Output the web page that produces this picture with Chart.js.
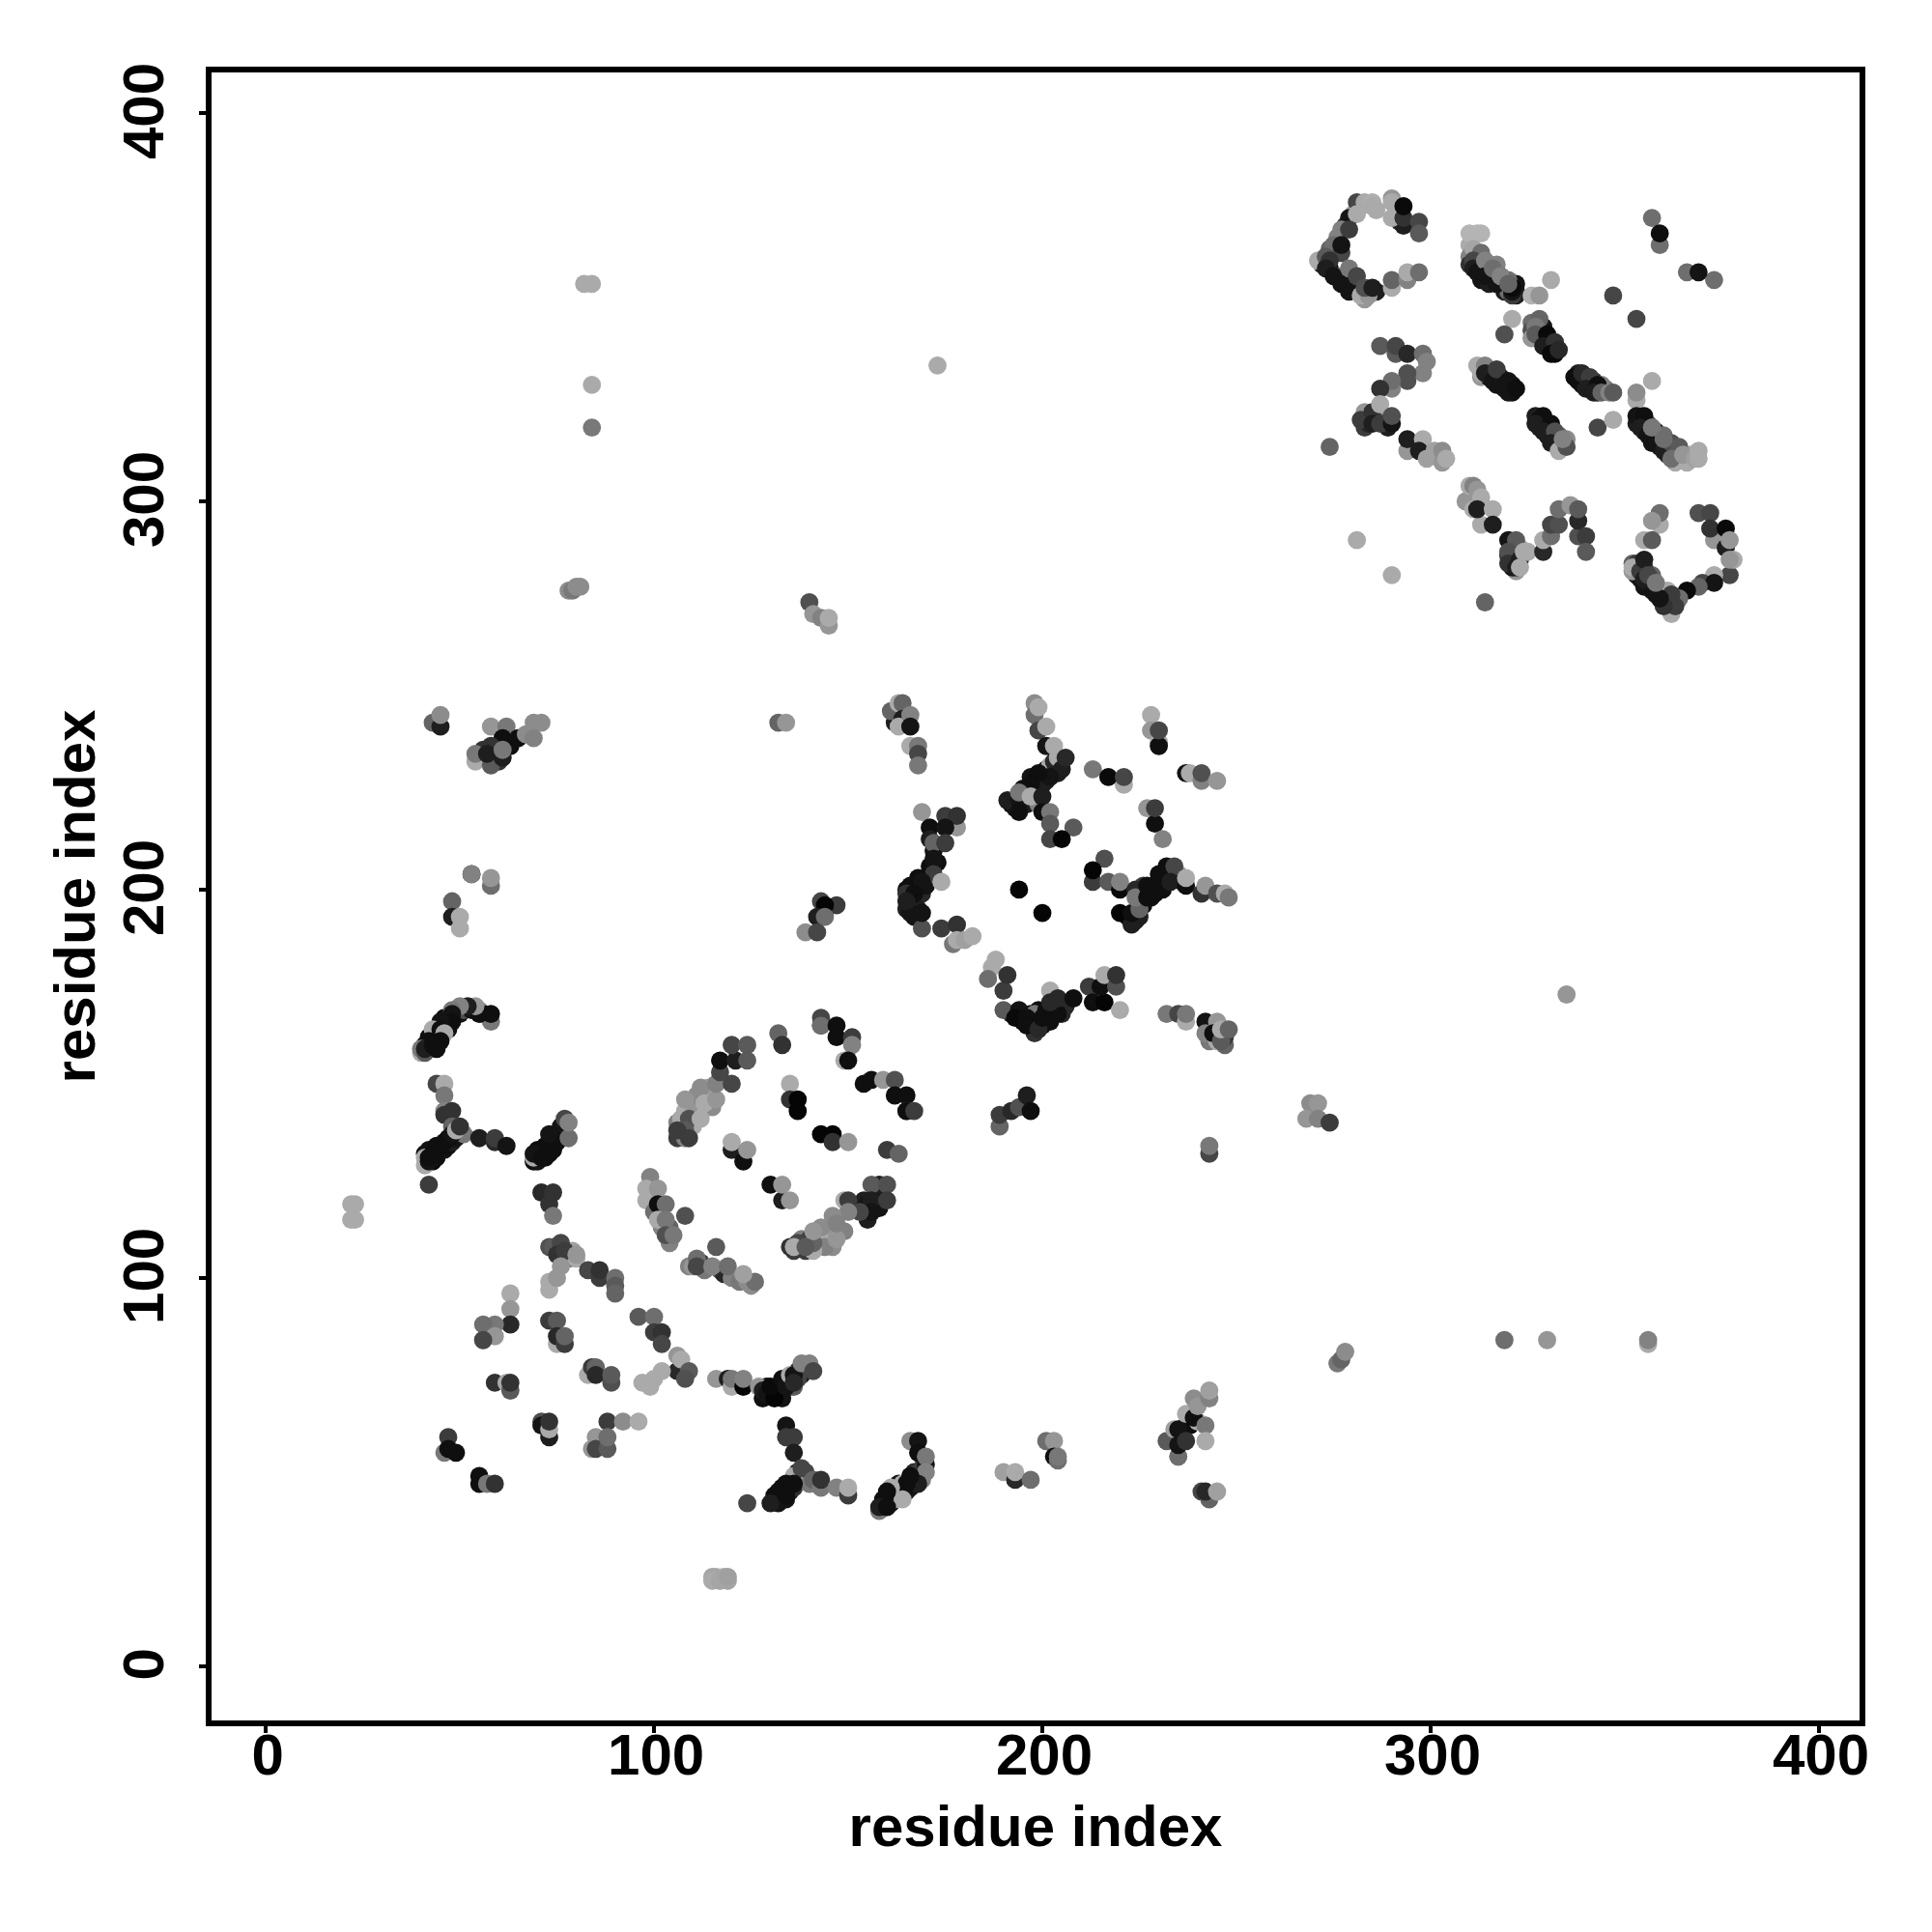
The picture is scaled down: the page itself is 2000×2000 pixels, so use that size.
<!DOCTYPE html>
<html>
<head>
<meta charset="UTF-8">
<title>residue contacts</title>
<script src="https://cdn.jsdelivr.net/npm/chart.js@4/dist/chart.umd.min.js"></script>
<style>
body { margin: 0; background: #fff; }
#wrap { width: 2000px; height: 2000px; }
</style>
</head>
<body>
<div id="wrap"><canvas id="contacts" width="2000" height="2000"></canvas></div>
<script>
// tick labels and axis range
const tickValues = [0, 100, 200, 300, 400];
const axisMin = -14.7;
const axisMax = 411.2;
const axisName = 'residue index';

// every contact is [residue x, residue y, grey level 0-255], grouped by region of the map
const topC = [[274,365,100],[276,368,130],[278,371,50],[280,374,170],[282,376,170],[286,375,170],[292,372,50],[293,371,30],
  [272,361,30],[274,360,20],[276,358,30],[277,358,120],[278,356,30],[280,355,20],[281,355,100],[282,354,20],[283,352,150],[284,354,170],[286,354,30],
  [281,377,70],[283,377,170],[285,377,175],[285,376,170],[290,378,150],[290,377,170],[290,373,170],[293,373,50],[293,376,10],[297,372,70],[297,369,90],
  [279,373,20],[281,374,170],[277,370,130],[279,370,60],[275,366,110],[277,364,70],[277,366,20],[271,362,170],[273,363,90],[274,362,50],[273,360,30],[275,358,20],[277,356,20],[279,354,20],[279,360,120],[281,358,70],
  [282,353,170],[284,353,150],[283,355,80],[285,355,30],[290,355,170],[290,357,100],[294,357,130],[294,359,170],[297,359,110]];
const topBand = [[310,366,170],[310,363,130],[310,361,50],[312,361,40],[313,360,30],[313,357,20],[315,360,90],[315,356,30],[316,358,40],[318,356,20],[319,354,30],[319,355,20],[320,354,110],[322,354,15],[322,356,20],[322,353,30],
  [310,369,180],[313,369,180],[312,369,180],[311,365,165],[313,364,110],[311,362,70],[311,360,30],[312,359,20],[314,362,130],[314,358,20],[317,361,130],[318,358,30],[317,356,20],[320,357,110],[321,353,60],[321,354,20],[321,355,10],
  [316,360,110],[318,358,130],[320,356,100],
  [326,346,110],[326,344,80],[328,342,30],[330,341,20],[331,340,30],[332,338,10],[326,342,150],[329,345,20],
  [331,357,170],[326,353,180],[328,353,150],[321,347,170],[319,343,80],[328,347,100],[327,345,120],[327,343,90],[330,343,10],[329,340,30],[332,341,50],[331,338,10],[333,339,40],
  [347,353,70],[353,347,70],[357,373,110],[359,366,110],[359,369,15],[366,359,110],[373,357,110],[369,359,20]];
const topMid = [[287,340,90],[291,338,90],[291,340,70],[294,338,40],[298,338,110],[298,333,130],[299,336,130],[294,333,80],[294,331,80],[290,329,130],[290,331,110],[287,329,50],
  [284,322,30],[286,321,20],[288,322,150],[289,319,30],[283,319,60],[288,320,40],[284,320,40],
  [283,323,150],[282,321,60],[285,323,50],[285,320,30],[287,320,60],[287,325,170],[290,320,20],[290,322,80],[274,314,100],
  [294,313,150],[294,316,30],[298,316,170],[297,313,30],[299,311,160],[301,313,160],[303,310,150],[303,313,140],[304,311,170]];
const topStrands = [[312,335,170],[313,332,150],[315,332,15],[316,333,40],[317,330,20],[319,331,90],[318,332,30],[321,330,15],[321,328,15],[315,334,110],
  [313,333,170],[314,335,130],[314,333,30],[316,331,20],[317,334,60],[319,329,20],[320,331,20],[320,328,20],[322,329,15],
  [338,333,30],[337,332,15],[340,331,30],[339,330,20],[342,331,40],[341,329,30],[343,328,20],[345,329,110],[344,330,130],
  [338,331,15],[339,333,40],[341,332,60],[340,329,30],[343,330,15],[342,328,30],[344,328,100],[346,328,130],[347,328,90],
  [353,326,170],[353,328,140],[357,331,170],[343,319,70],[347,321,170],
  [327,322,30],[328,321,15],[328,319,40],[330,319,15],[330,317,30],[332,316,20],[333,317,100],[333,315,40],[334,314,100],[335,316,140],
  [329,322,15],[327,320,30],[331,320,15],[329,318,30],[332,318,80],[331,315,30],[333,313,170],[335,314,80],[334,316,130],
  [353,320,30],[355,320,20],[355,318,30],[356,319,15],[357,317,30],[357,315,20],[359,316,20],[359,314,30],[361,315,100],[361,312,60],[363,312,120],[363,310,170],[366,310,170],[367,312,170],[356,320,100],
  [353,322,20],[355,322,15],[354,319,30],[356,317,20],[357,319,90],[358,318,30],[358,315,20],[360,317,110],[360,313,30],[362,315,80],[364,314,90],[362,311,110],[365,312,150],[368,311,160],[369,313,170],[369,311,170],
  [357,319,120],[360,316,110]];
const topLoops = [[309,300,150],[310,304,170],[311,304,130],[312,303,150],[313,294,170],[311,298,170],[313,301,170],[312,298,30],[316,298,170],[316,294,30],
  [320,286,50],[321,285,30],[322,282,150],[321,283,20],[322,288,80],[323,288,170],
  [320,290,20],[322,290,90],[320,287,80],[320,284,50],[323,285,30],[322,283,30],[323,283,170],[324,287,170],[325,287,170],[329,287,40],[329,290,170],[331,291,110],[331,294,70],[333,294,80],[333,298,110],[336,299,150],[338,291,80],[338,295,40],[338,298,90],[340,291,60],[340,287,90],
  [359,294,170],[359,297,110],[357,295,150],[355,290,170],[357,290,90],[369,297,80],[372,297,70],[373,290,150],[372,293,50],[376,293,10],[376,288,30],[377,290,150],[377,281,70],[378,285,170],[377,285,150],[373,281,170],[370,279,70],[373,279,20],[369,278,100],[366,277,10],
  [352,284,100],[353,281,30],[354,280,20],[355,278,20],[356,279,30],[357,279,90],[358,276,20],[359,277,60],[360,275,20],[361,274,40],[352,282,150],[353,284,60],[357,281,100],[355,283,60],
  [362,271,170],[361,277,170],[364,275,110],[362,276,60],[363,273,60],[360,273,50],[359,275,20],[357,277,20],[352,283,170],[354,282,90],[354,282,60],[355,280,30],[355,285,30],[356,281,70],[358,279,120],
  [281,290,170],[290,281,170],[314,274,100]];
const upperLeft = [[84,356,170],[82,356,170],[84,330,170],[84,319,120],[78,277,140],[79,277,120],[80,278,140],[81,278,140],[140,274,80],[141,271,150],[143,270,130],[145,268,150],[145,270,170],[173,335,170],
  [59,234,30],[60,236,20],[60,233,50],[56,236,50],[63,237,15],
  [43,243,100],[45,242,30],[45,245,140],[58,242,150],[62,242,120],[69,243,140],[71,243,140],[61,239,15],[65,239,15],[67,240,140],[69,239,130],[54,233,170],[54,235,120],[58,232,90],[58,237,50],[57,235,30],[61,234,30],[61,236,120],
  [132,243,100],[134,243,150],[53,204,30],[53,204,130],[58,201,110],[58,203,150],[48,197,100],[48,193,30],[50,193,170],[50,190,170],
  [143,197,70],[147,196,60],[144,196,5],[142,193,30],[144,193,110],[139,189,140],[142,189,70]];
const leftArc = [[40,158,170],[41,160,20],[42,159,15],[42,162,15],[43,161,15],[43,163,15],[44,162,15],[44,164,20],[45,163,20],[46,165,15],[46,167,15],[47,164,15],[47,167,30],[49,168,15],[49,169,130],[50,168,20],[51,169,80],[53,169,20],[55,169,150],[56,168,15],
  [58,166,120],[58,168,15],[55,168,15],[54,170,150],[52,170,30],[50,170,130],[48,169,120],[48,168,20],[48,166,15],[45,166,20],[43,164,170],[45,164,15],[46,163,170],[45,161,15],[42,161,15],[40,159,120],[41,158,90],[41,159,30],[43,160,15],[44,159,15],
  [44,150,70],[46,150,170],[46,147,120],[46,143,130],[48,143,50],[46,142,50],
  [41,132,15],[42,133,20],[43,130,10],[44,131,15],[45,133,15],[46,133,20],[47,134,15],[48,135,30],[48,139,100],[50,137,60],[49,136,20],[51,137,120],[41,131,170],[44,133,15],
  [41,129,170],[42,130,20],[42,131,15],[43,132,15],[44,134,15],[46,135,15],[47,136,15],[48,137,20],[49,138,170],[50,139,50],[55,136,30],[59,135,40],[59,136,60],[62,134,20],[42,124,60],
  [69,130,15],[70,130,20],[70,133,15],[71,133,15],[72,131,15],[72,134,15],[73,132,15],[74,135,20],[74,133,15],[75,137,30],[76,136,50],[69,131,170],[77,139,150],[76,139,20],
  [69,132,20],[71,131,15],[73,134,15],[75,135,15],[73,137,20],[77,141,70],[78,136,110],[78,140,130],[71,122,40],[74,122,50],[73,119,50],[74,116,120]];
const midBarrelTop = [[106,140,130],[106,136,60],[107,139,170],[108,143,170],[108,136,130],[110,145,150],[110,139,170],[111,147,140],[113,148,130],[114,147,150],[115,144,140],[114,149,160],
  [107,141,170],[108,146,150],[109,141,80],[112,141,170],[108,138,90],[106,138,60],[109,136,60],
  [112,149,140],[113,145,170],[116,146,150],[116,150,130],[120,150,70],[117,153,70],[117,156,15],[121,156,30],[124,156,90],[120,160,70],[124,160,90],
  [132,163,100],[133,160,50],[143,167,70],[143,165,30],[143,165,110],[147,165,15],[147,162,15],[151,162,60],[151,160,130],[149,156,170],[150,156,15],
  [135,150,170],[135,146,50],[137,146,5],[137,143,5],[143,137,5],[146,137,5],[146,135,50],[150,135,150],
  [154,150,15],[156,151,15],[159,151,150],[162,151,80],[162,147,15],[165,147,15],[165,143,110],[165,143,15],[167,143,60]];
const midBarrelLow = [[160,133,60],[163,132,100],[120,133,30],[120,135,170],[123,130,15],[124,133,150],[130,124,15],[133,120,30],[133,124,150],[135,120,150],
  [98,120,170],[100,117,110],[102,113,130],[104,113,100],[104,109,130],
  [99,126,130],[98,123,170],[101,123,150],[101,119,15],[103,119,110],[101,115,170],[103,115,120],[103,111,80],[105,111,120],[108,116,80],
  [109,103,130],[112,104,60],[113,102,120],[117,102,90],[118,101,40],[120,100,130],[122,99,120],[124,99,140],[125,98,140],[126,99,110],
  [116,108,90],[110,103,150],[111,105,110],[111,103,70],[115,103,130],[119,103,110],[123,101,160],
  [151,118,30],[154,120,30],[155,119,20],[157,122,15],[158,120,20],[158,118,20],[155,115,30],
  [158,124,30],[156,124,90],[160,124,80],[156,120,30],[160,120,60],[156,117,20],[153,117,70],[149,120,170],[150,120,60],[150,117,130],[149,112,130],[146,116,140],[146,112,150],[146,108,140],
  [136,107,60],[138,110,130],[139,107,60],[140,108,170],[140,110,60],[143,110,170],[143,113,140],[144,108,130],[147,110,150],[147,114,130],
  [141,107,170],[141,109,100],[141,112,150],[137,109,70],[135,108,50],[136,108,170],[139,108,90]];
const centerRight = [[162,245,170],[162,243,30],[164,246,50],[163,244,15],[165,243,170],
  [161,246,100],[163,248,170],[164,248,100],[164,244,30],[163,242,170],[166,245,130],[166,242,20],[166,237,170],[168,237,120],[168,235,70],[168,232,120],
  [165,200,15],[166,198,30],[167,201,20],[167,197,15],[168,200,15],[169,199,40],[170,203,15],[170,201,20],[171,204,15],[165,195,30],[168,195,30],[166,194,20],[171,206,15],[172,210,20],[173,207,15],
  [169,220,150],[175,219,60],[178,216,150],[178,219,50],[171,216,15],[175,216,20],[171,213,30],[172,212,100],[175,212,60],[172,208,20],[172,204,60],[174,202,170],
  [168,203,15],[166,201,15],[169,202,20],[165,199,50],[167,199,15],[165,197,30],[167,193,20],[169,190,80],[169,194,20],
  [174,190,60],[178,191,50],[177,186,120],[178,187,170],[180,187,160],[182,188,170],
  [195,224,15],[195,226,20],[196,222,30],[196,226,15],[197,229,20],[198,225,15],[198,228,15],[199,227,20],[200,227,15],[200,229,15],[201,228,30],[201,231,20],[202,232,170],[203,230,60],[203,233,40],[204,230,30],[205,233,170],[192,222,15],[193,221,20],[199,222,130],
  [198,248,140],[198,245,110],[199,247,170],[199,241,70],[201,242,170],[201,237,20],[203,237,170],[204,234,170],[205,231,30],[206,234,40],[202,229,20],[199,230,15],[197,227,15],[191,223,30],[194,223,20],[194,225,120],[194,220,15],[197,224,170],[200,224,30],[200,220,15],[202,220,120],[202,217,90],[208,216,90],[202,213,70],[205,213,5],
  [213,231,120],[221,227,170],[217,229,10],[221,229,70],[228,245,170],[228,241,150],[230,238,170],[230,237,15],[230,241,70],
  [237,230,20],[238,230,170],[241,228,130],[241,230,80],[245,228,150],[227,221,150],[229,217,15],[229,221,60],[231,213,130],
  [224,192,30],[225,193,30],[226,196,15],[226,199,15],[228,198,20],[228,200,15],[229,199,15],[230,201,20],[231,200,15],[231,203,15],[232,202,15],[233,205,15],[234,203,40],[235,204,150],[236,202,30],[222,193,15],[226,201,60],
  [216,208,80],[213,202,60],[213,205,5],[217,202,90],[220,200,10],[220,202,130],[224,200,40],[220,194,5],[223,191,30],[223,194,15],[225,195,100],[224,198,120],[227,198,15],[227,201,15],[229,201,15],[230,204,15],[232,206,15],[234,206,70],[233,202,30],[237,201,15],[237,203,170],
  [241,199,50],[242,201,150],[245,199,80],[247,199,170],[248,198,120],[194,200,5],[200,194,5]];
const centerLow = [[187,180,170],[186,177,110],[188,182,170],[190,174,60],[191,178,50],
  [195,166,15],[197,165,15],[197,168,15],[198,166,15],[199,166,15],[199,169,15],[200,165,10],[201,167,15],[202,168,15],[202,166,15],[203,170,15],[204,170,60],[205,168,40],[205,171,15],[206,170,40],[198,163,50],[198,168,120],[192,168,30],
  [190,169,90],[194,169,20],[193,167,10],[196,167,15],[196,165,15],[199,164,40],[200,167,15],[201,169,15],[204,168,15],[202,174,170],[202,171,40],[204,172,40],[208,172,15],[212,175,60],[213,171,15],[216,171,5],[215,175,15],[216,178,170],[219,175,80],[219,178,50],[220,169,170],
  [243,161,120],[245,161,170],[245,163,15],[247,160,100],[247,162,60],[247,164,120],
  [232,168,120],[235,168,70],[237,166,170],[237,168,120],[242,166,20],[245,166,150],[242,163,130],[244,163,15],[246,161,90],[246,164,170],[248,164,100],
  [189,139,100],[189,142,60],[192,143,40],[194,144,80],[196,147,30],[197,143,15],[243,132,70],[243,134,120],
  [269,145,140],[271,145,150],[268,141,150],[271,141,130],[274,140,60],[335,173,150]];
const lowerLeft = [[22,119,170],[23,119,170],[22,115,170],[23,115,170],
  [78,105,120],[78,107,130],[79,107,160],[80,105,170],[73,108,80],
  [74,108,90],[76,109,70],[75,106,50],[77,107,60],[80,106,150],[76,103,150],[73,97,170],[73,99,170],[75,100,150],
  [83,102,70],[86,100,60],[86,102,50],[90,100,110],[90,98,90],[90,96,100],
  [63,96,170],[63,92,150],[63,88,40],[59,88,120],[56,84,170],[56,88,110],[59,85,150],[56,84,70],
  [75,83,170],[73,89,60],[75,89,90],[75,85,40],[77,83,60],[77,85,100],
  [96,90,90],[100,90,110],[100,86,60],[102,86,50],[102,83,70],[106,76,40],[106,80,150],[107,79,170],[102,76,170],[109,76,90],[108,74,80],[100,74,170],[99,72,170],[97,73,170],
  [83,75,170],[84,77,60],[85,77,100],[85,75,40],[89,73,80],[89,75,90],
  [59,73,50],[62,73,170],[63,71,90],[63,73,50],[71,63,80],[71,62,20],[73,59,30],[73,61,170],[73,63,50],
  [88,63,60],[92,63,140],[96,63,170],[85,59,150],[84,56,150],[85,56,70],[88,56,90],[88,59,110],
  [46,55,120],[47,59,60],[47,56,15],[49,55,15],[55,47,15],[55,49,15],[57,47,120],[59,47,50],
  [116,23,170],[118,23,170],[119,22,165],[115,23,165],[115,22,170],[117,22,165],[119,23,160]];
const lowerMid = [[128,69,15],[129,72,20],[130,70,15],[131,71,5],[132,70,15],[132,72,10],[133,71,15],[133,69,20],[134,74,15],[135,72,20],[135,73,30],[136,72,90],[137,76,40],[138,75,30],[137,74,70],
  [116,74,150],[119,74,30],[120,72,170],[120,74,120],[123,72,5],[123,74,130],[127,72,150],[128,71,30],[129,70,20],[131,69,5],[130,72,10],[133,74,15],[134,72,20],[135,75,170],[136,75,20],[136,73,40],[138,78,130],[140,78,130],[141,76,70],
  [131,44,15],[132,43,20],[133,44,5],[133,46,15],[134,46,15],[134,43,20],[135,47,15],[135,45,20],[136,46,50],[137,49,40],[137,50,30],[138,48,90],[139,50,70],[140,47,120],
  [134,62,20],[134,59,60],[136,59,60],[136,55,30],[136,49,170],[138,51,70],[136,47,15],[134,47,15],[132,45,15],[131,43,15],[132,42,20],[130,42,30],[134,44,15],[141,48,100],[143,46,120],[143,48,50],[147,46,130],[150,44,60],[150,46,170],[124,42,70],
  [159,41,15],[160,43,30],[161,42,15],[161,44,5],[162,43,170],[162,45,15],[163,47,15],[164,47,170],[165,45,30],[166,48,30],[166,46,20],[167,49,15],[167,50,40],[168,50,60],[169,51,60],[169,48,130],
  [166,58,140],[168,58,20],[168,55,15],[170,52,20],[170,54,120],[170,50,130],[168,47,30],[165,47,15],[166,49,15],[164,45,15],[164,43,170],[161,46,170],[160,45,15],[159,43,15],[158,40,120],[158,41,30],[160,41,15],
  [190,50,160],[193,48,40],[193,50,170],[197,48,110],[201,58,110],[203,58,150],[203,54,15],[204,53,110],[204,54,120]];
const lowerRight = [[236,60,20],[237,62,15],[238,64,170],[238,62,15],[236,58,60],[240,63,170],
  [232,58,90],[234,61,160],[235,61,20],[235,54,170],[235,54,110],[235,57,20],[237,58,50],[237,65,170],[239,69,140],[239,64,15],[240,67,150],[243,69,130],[243,71,160],[242,62,120],[242,58,170],
  [241,45,70],[243,43,100],[242,45,40],[245,45,160],
  [276,78,120],[277,79,100],[278,81,140],[319,84,110],[330,84,150],[356,83,170],[356,84,130]];

const allContacts = [...topC, ...topBand, ...topMid, ...topStrands, ...topLoops, ...upperLeft, ...leftArc,
  ...midBarrelTop, ...midBarrelLow, ...centerRight, ...centerLow, ...lowerLeft, ...lowerMid, ...lowerRight];

// box around the plot, R style
const frameBox = {
  id: 'frameBox',
  afterDraw(chart) {
    const a = chart.chartArea, c = chart.ctx;
    c.save();
    c.strokeStyle = '#000';
    c.lineWidth = 6;
    c.strokeRect(a.left, a.top, a.right - a.left, a.bottom - a.top);
    c.restore();
  }
};

function axisOptions(extra) {
  return Object.assign({
    type: 'linear',
    min: axisMin,
    max: axisMax,
    afterBuildTicks: s => { s.ticks = tickValues.map(v => ({ value: v })); },
    border: { display: false },
    grid: { drawOnChartArea: false, drawTicks: true, tickLength: 10, color: '#000', lineWidth: 4 }
  }, extra);
}

const axisFont = { family: 'Liberation Sans', size: 60, weight: 'bold' };

new Chart(document.getElementById('contacts').getContext('2d'), {
  type: 'scatter',
  data: {
    datasets: [{
      data: allContacts.map(p => ({ x: p[0], y: p[1] })),
      pointRadius: 9.4,
      pointBorderWidth: 0,
      pointBackgroundColor: allContacts.map(p => `rgb(${p[2]},${p[2]},${p[2]})`)
    }]
  },
  options: {
    responsive: false,
    animation: false,
    layout: { padding: { top: 72, right: 72, left: 0, bottom: 0 } },
    plugins: { legend: { display: false }, tooltip: { enabled: false } },
    scales: {
      x: axisOptions({
        afterFit: s => { s.height = 216; },
        title: { display: true, text: axisName, color: '#000', font: axisFont, padding: { top: 70, bottom: 70 } },
        ticks: { color: '#000', font: axisFont, padding: -10, labelOffset: 2, maxRotation: 0, autoSkip: false, callback: v => String(v) }
      }),
      y: axisOptions({
        afterFit: s => { s.width = 216; },
        title: { display: true, text: axisName, color: '#000', font: axisFont, padding: { top: 45, bottom: 45 } },
        ticks: { color: '#000', font: axisFont, padding: 3, labelOffset: -2, minRotation: 90, maxRotation: 90, crossAlign: 'center', autoSkip: false, callback: v => String(v) }
      })
    }
  },
  plugins: [frameBox]
});
</script>
</body>
</html>
